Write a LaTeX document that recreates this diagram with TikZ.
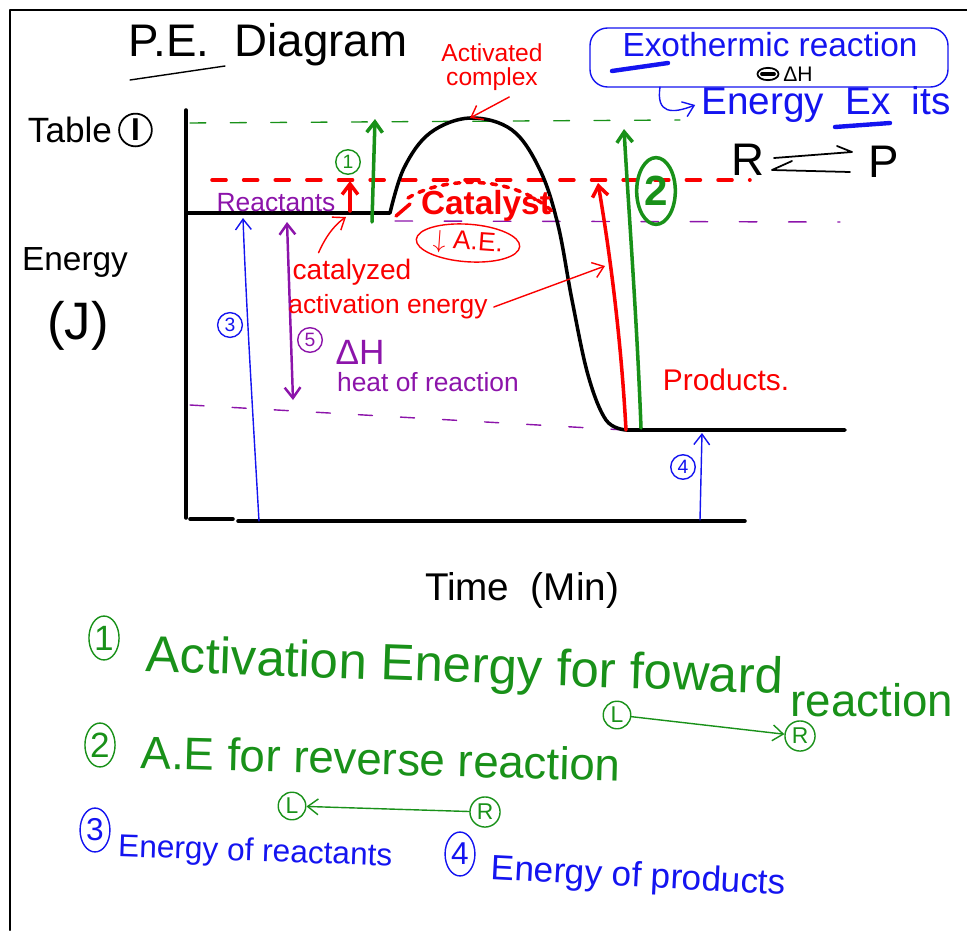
\documentclass[tikz,border=0pt]{standalone}
\usepackage{fontspec}
\setmainfont{Liberation Sans}
\usetikzlibrary{arrows.meta,positioning,shapes.geometric}

\definecolor{inkred}{RGB}{250,0,0}
\definecolor{inkgreen}{RGB}{25,145,25}
\definecolor{inkpurple}{RGB}{140,20,170}
\definecolor{inkblue}{RGB}{20,20,240}

\tikzset{
  fs/.style={font=\fontsize{#1}{#1}\selectfont},
  fsb/.style={font=\fontsize{#1}{#1}\selectfont\bfseries},
  ink/.style={line width=0.8pt},
  barb/.style={-{Straight Barb[length=6pt,width=9pt]}},
  numcirc/.style={circle,draw,inner sep=1.5pt,fs=11,line width=0.8pt},
  numoval/.style={ellipse,draw,inner sep=0.5pt,fs=20,line width=0.8pt,minimum width=17pt,minimum height=25pt},
}

\begin{document}
\begin{tikzpicture}[x=0.02cm,y=-0.02cm,line cap=round,line join=round]
\useasboundingbox (0,0) rectangle (967,930);

% Frame
\draw[line width=1.6pt] (10,930) -- (10,10) -- (967,10);

% Title
\node[fs=26] (title) at (268,45) {P.E.\ \ Diagram};
\draw[ink] (130,80) -- (225,66);
\node[fs=20] (table) at (70,130) {Table};
\node[circle,draw,line width=1pt,inner sep=2pt,fs=18,right=0pt of table] (tableno) {\textbf{I}};

% Axes
\draw[line width=2pt] (186,110) -- (186,518);
\draw[line width=2pt] (190,519) -- (233,519);
\draw[line width=2pt] (238,521) -- (745,521);
\node[fs=19] (energy) at (75,262) {Energy};
\node[fs=30] (joule) at (78,326) {(J)};
\node[fs=22] (time) at (522,590) {Time \ (Min)};

% Dashed levels
\draw[inkgreen,ink,dash pattern=on 9pt off 14pt] (190,123) -- (680,120);
\draw[inkred,line width=2pt,dash pattern=on 8pt off 10pt] (212,180) -- (750,180);
\draw[inkpurple,ink,dash pattern=on 10pt off 18pt] (395,221) -- (840,222);
\draw[inkpurple,ink,dash pattern=on 8pt off 16pt] (190,405) -- (625,430);

% Energy curve
\coordinate (peak) at (470,118);
\draw[line width=2pt] (186,213) -- (390,213)
  plot[smooth,tension=0.6] coordinates {(390,213) (404,168) (430,133) (470,118) (512,130) (540,170) (558,225) (572,300) (588,375) (606,420) (626,430)}
  -- (845,430);

% Catalyst path
\draw[inkred,line width=2pt,dash pattern=on 3pt off 4pt]
  (408,198) .. controls (440,178) and (510,172) .. (553,212);
\draw[inkred,line width=2pt] (396,216) -- (410,204);
\node[inkred,fsb=19] (catalyst) at (486,206) {Catalyst};
\node[ellipse,draw=inkred,ink,inkred,fs=15,inner sep=1pt,minimum width=98pt*0.569,rotate=-4] (lowerae) at (468,243) {$\downarrow$ A.E.};

% Activated complex
\node[inkred,fs=14,align=center] (actcomplex) at (492,67) {Activated\\complex};
\draw[inkred,ink,barb] (actcomplex.-60) -- (peak);

% Arrows (1) and catalyzed
\coordinate (cbase) at (350,211);
\coordinate (ctop) at (350,181);
\draw[inkred,line width=2pt,barb] (cbase) -- (ctop);
\coordinate (g1base) at (372,222);
\coordinate (g1top) at (375,119);
\draw[inkgreen,line width=2pt,barb] (g1base) -- (g1top);
\node[numcirc,inkgreen] (one) at (348,162) {1};

% Reverse arrows (2)
\coordinate (rbase) at (626,430);
\coordinate (rtop) at (598,183);
\draw[inkred,line width=2pt,barb] (rbase) .. controls (620,320) and (606,230) .. (rtop);
\coordinate (gbase) at (641,428);
\coordinate (gtop) at (624,129);
\draw[inkgreen,line width=2pt,barb] (gbase) .. controls (637,320) and (628,200) .. (gtop);
\node[ellipse,draw,inkgreen,line width=2pt,fsb=24,inner sep=0pt,minimum width=22pt,minimum height=38pt] (two) at (656,191) {2};

\node[inkred,fs=17] (products) at (726,380) {Products.};
\node[inkpurple,fs=15] (reactants) at (276,203) {Reactants};

% Energy of reactants (3) and products (4)
\coordinate (b3base) at (259,521);
\coordinate (b3top) at (243,218);
\draw[inkblue,ink,barb] (b3base) .. controls (252,400) and (246,300) .. (b3top);
\node[numcirc,inkblue] (three) at (230,325) {3};
\coordinate (b4base) at (700,520);
\coordinate (b4top) at (702,433);
\draw[inkblue,ink,barb] (b4base) -- (b4top);
\node[numcirc,inkblue] (four) at (683,467) {4};

% Heat of reaction (5)
\coordinate (dhtop) at (287,222);
\coordinate (dhbase) at (293,400);
\draw[inkpurple,line width=1.4pt,{Straight Barb[length=6pt,width=9pt]}-{Straight Barb[length=6pt,width=9pt]}] (dhtop) -- (dhbase);
\node[numcirc,inkpurple] (five) at (310,340) {5};
\node[inkpurple,fs=20] (deltah) at (360,352) {ΔH};
\node[inkpurple,fs=15] (heat) at (428,382) {heat of reaction};

% Catalyzed activation energy
\node[inkred,fs=16] (catalyzed) at (352,272) {catalyzed};
\node[inkred,fs=15] (actenergy) at (388,307) {activation energy};
\coordinate (catarrow) at (346,217);
\draw[inkred,ink,barb] (catalyzed.150) .. controls (322,245) and (330,228) .. (catarrow);
\coordinate (redpoint) at (605,266);
\draw[inkred,ink,barb] (actenergy.east) -- (redpoint);

% Exothermic box
\node[inkblue,fs=19] (exo) at (770,45) {Exothermic reaction};
\draw[inkblue,ink,rounded corners=10pt] (590,28) rectangle (948,87);
\draw[inkblue,line width=2.5pt] (612,71) -- (668,63);
\node[ellipse,draw,line width=1pt,inner sep=0pt,minimum width=12pt,minimum height=7pt] (minus) at (768,74) {};
\draw[line width=2pt] (minus.west) ++(3pt,0) -- ([xshift=-3pt]minus.east);
\node[fs=12,right=1pt of minus,inner sep=1pt] (dh) {ΔH};
\node[inkblue,fs=22] (exits) at (826,105) {Energy \ Ex \ its};
\coordinate (hook) at (660,87);
\draw[inkblue,ink,barb] (hook) .. controls (656,114) and (672,114) .. (exits.west);
\draw[inkblue,line width=2.5pt] (835,127) -- (890,123);

% R <=> P
\node[fs=26] (rnode) at (748,160) {R};
\node[fs=26] (pnode) at (884,162) {P};
\coordinate (fwdstart) at (774,158);
\coordinate (fwdend) at (852,152);
\coordinate (revstart) at (850,172);
\coordinate (revend) at (772,170);
\draw[line width=1pt] (fwdstart) -- (fwdend) -- ++(-15,-6);
\draw[line width=1pt] (revstart) -- (revend) -- ++(20,-9);

% Legend
\node[numoval,inkgreen] (l1) at (104,638) {1};
\node[inkgreen,fs=29,anchor=west,rotate=-2] (l1text) at (140,658) {Activation Energy for foward};
\node[inkgreen,fs=26] (l1react) at (872,700) {reaction};
\node[numcirc,inkgreen,fs=13] (fl) at (617,715) {L};
\node[numcirc,inkgreen,fs=13] (fr) at (800,736) {R};
\draw[inkgreen,ink,barb] (fl) -- (fr);
\node[numoval,inkgreen] (l2) at (100,745) {2};
\node[inkgreen,fs=26,anchor=west,rotate=-1.5] (l2text) at (135,752) {A.E for reverse reaction};
\node[numcirc,inkgreen,fs=13] (bl) at (292,806) {L};
\node[numcirc,inkgreen,fs=13] (br) at (485,812) {R};
\draw[inkgreen,ink,barb] (br) -- (bl);
\node[numoval,inkblue,fs=18] (l3) at (95,830) {3};
\node[inkblue,fs=18,anchor=west,rotate=-2] (l3text) at (112,848) {Energy of reactants};
\node[numoval,inkblue,fs=18] (l4) at (460,854) {4};
\node[inkblue,fs=20,anchor=west,rotate=-3] (l4text) at (485,870) {Energy of products};
\end{tikzpicture}
\end{document}
